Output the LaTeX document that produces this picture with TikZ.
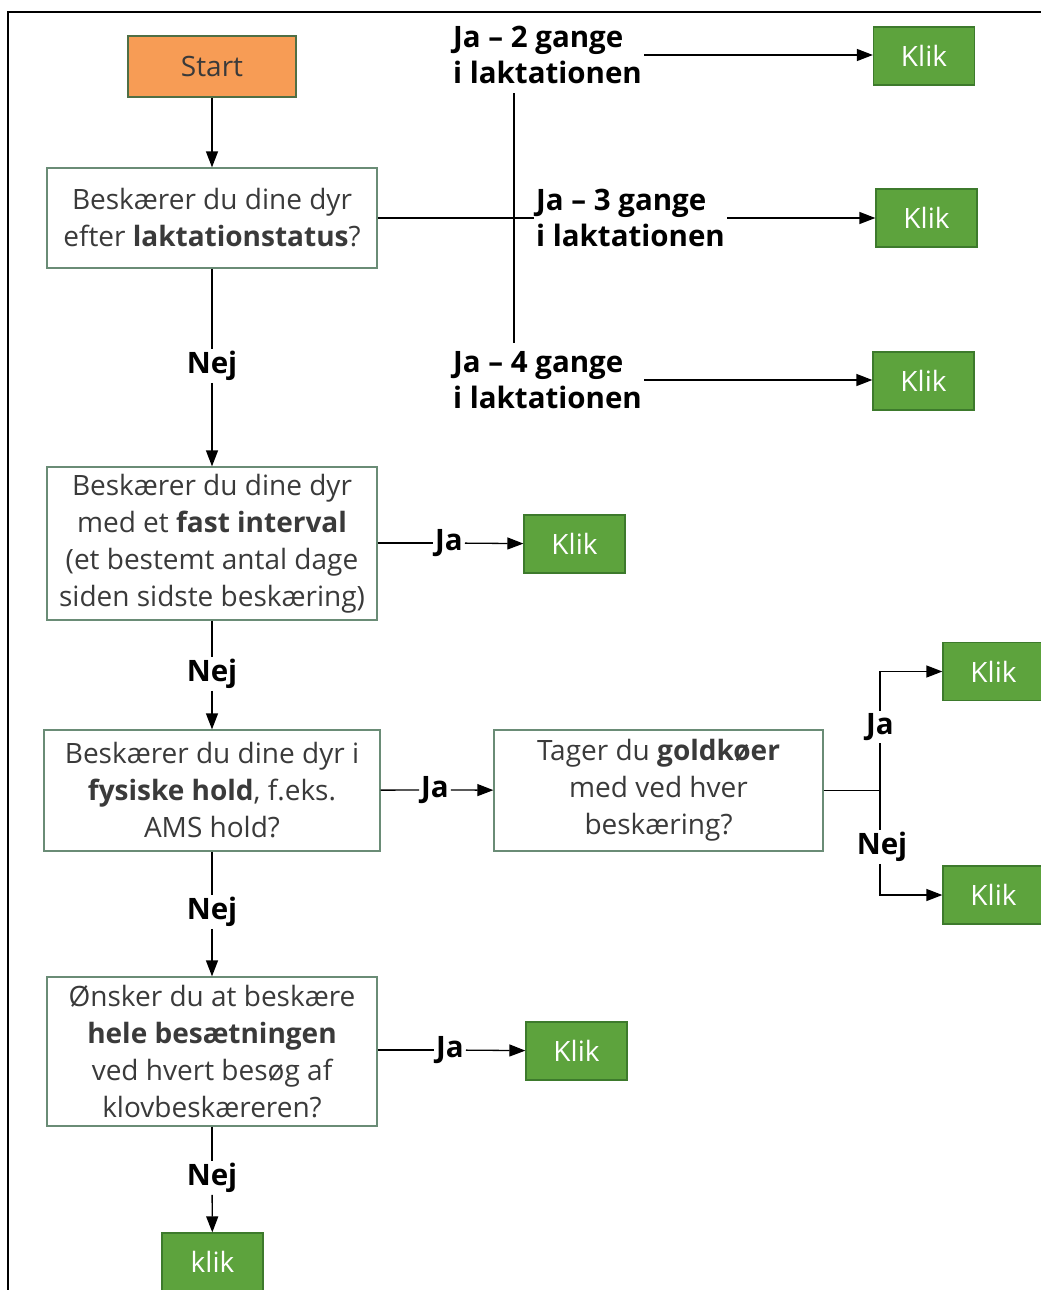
\documentclass[tikz,border=0pt]{standalone}
\usepackage{fontspec}
\setmainfont{Open Sans}
\usetikzlibrary{arrows.meta}
\definecolor{orangefill}{HTML}{F79C55}
\definecolor{startdraw}{HTML}{4F6F45}
\definecolor{klikfill}{HTML}{5DA33D}
\definecolor{klikdraw}{HTML}{3D7A2C}
\definecolor{boxdraw}{HTML}{6A8C76}
\definecolor{txtgrey}{HTML}{3A3A3A}
\newcommand\bxfont{\fontsize{28}{37}\selectfont}
\newcommand\lbfont{\fontsize{29.5}{36}\selectfont\bfseries}
\begin{document}
\begin{tikzpicture}[x=1pt,y=-1pt,
  qbox/.style={draw=boxdraw, line width=1.3pt, fill=white, align=center, text=txtgrey, font=\bxfont, inner sep=0pt},
  klikbox/.style={draw=klikdraw, line width=1.3pt, fill=klikfill, text=white, font=\bxfont, minimum width=101pt, minimum height=58pt, inner sep=0pt},
  startbox/.style={draw=startdraw, line width=1.3pt, fill=orangefill, text=txtgrey, font=\bxfont, minimum width=168pt, minimum height=61pt, inner sep=0pt},
  lbl/.style={font=\lbfont, text=black, inner sep=2pt},
  conn/.style={line width=1.3pt, draw=black},
  arr/.style={conn, -{Triangle[length=16pt,width=12pt]}}
]
\useasboundingbox (0,0) rectangle (1041,1290);
\fill[white] (0,0) rectangle (1041,1290);
\draw[line width=1.2pt] (8,1290) -- (8,12) -- (1041,12);

% nodes
\node[startbox] (start) at (212,66.5) {Start};
\node[qbox, minimum width=330pt, minimum height=100pt] (b1) at (212,218)
  {Beskærer du dine dyr\\efter \textbf{laktationstatus}?};
\node[qbox, minimum width=330pt, minimum height=153pt] (b2) at (212,543.5)
  {Beskærer du dine dyr\\med et \textbf{fast interval}\\(et bestemt antal dage\\siden sidste beskæring)};
\node[qbox, minimum width=336pt, minimum height=121pt] (b3) at (212,790.5)
  {Beskærer du dine dyr i\\\textbf{fysiske hold}, f.eks.\\AMS hold?};
\node[qbox, minimum width=329pt, minimum height=121pt] (b4) at (658.5,790.5)
  {Tager du \textbf{goldkøer}\\med ved hver\\beskæring?};
\node[qbox, minimum width=330pt, minimum height=149pt] (b5) at (212,1051.5)
  {Ønsker du at beskære\\\textbf{hele besætningen}\\ved hvert besøg af\\klovbeskæreren?};

\node[klikbox] (k1) at (924,56) {Klik};
\node[klikbox] (k2) at (926.5,218) {Klik};
\node[klikbox] (k3) at (923.5,381) {Klik};
\node[klikbox] (k4) at (574.5,544) {Klik};
\node[klikbox] (k5) at (993.5,671.5) {Klik};
\node[klikbox] (k6) at (993.5,895) {Klik};
\node[klikbox] (k7) at (576.5,1051) {Klik};
\node[klikbox] (k8) at (212.5,1262) {klik};

% labels
\node[lbl, align=left, anchor=west] (l2) at (451,55) {Ja – 2 gange\\i laktationen};
\node[lbl, align=left, anchor=west] (l3) at (534,218) {Ja – 3 gange\\i laktationen};
\node[lbl, align=left, anchor=west] (l4) at (451,380) {Ja – 4 gange\\i laktationen};
\node[lbl] (n1) at (212,366) {Nej};
\node[lbl] (n2) at (212,674) {Nej};
\node[lbl] (n3) at (212,912) {Nej};
\node[lbl] (n4) at (212,1178) {Nej};
\node[lbl] (j1) at (449,543) {Ja};
\node[lbl] (j2) at (435,790) {Ja};
\node[lbl] (j3) at (450,1050) {Ja};
\node[lbl] (jr) at (880,727) {Ja};
\node[lbl] (nr) at (882,847) {Nej};

\coordinate (vt) at (514,93);
\coordinate (vb) at (514,343);
\coordinate (jj) at (880,790.5);

% connectors
\draw[arr] (start) -- (b1);
\draw[conn] (b1.east) -- (l3.west);
\draw[conn] (vt) -- (vb);
\draw[arr] (l2.east) -- (l2.east -| k1.west);
\draw[arr] (l3.east) -- (l3.east -| k2.west);
\draw[arr] (l4.east) -- (l4.east -| k3.west);

\draw[conn] (b1) -- (n1);
\draw[arr] (n1) -- (b2);
\draw[conn] (b2.east |- j1) -- (j1);
\draw[arr] (j1) -- (k4);
\draw[conn] (b2) -- (n2);
\draw[arr] (n2) -- (b3);
\draw[conn] (b3) -- (j2);
\draw[arr] (j2) -- (b4);
\draw[conn] (b4.east) -- (jj);
\draw[conn] (jj) -- (jj |- jr.south);
\draw[arr] (jj |- jr.north) |- (k5.west);
\draw[conn] (jj) -- (jj |- nr.north);
\draw[arr] (jj |- nr.south) |- (k6.west);
\draw[conn] (b3) -- (n3);
\draw[arr] (n3) -- (b5);
\draw[conn] (b5.east |- j3) -- (j3);
\draw[arr] (j3) -- (k7);
\draw[conn] (b5) -- (n4);
\draw[arr] (n4) -- (k8);
\end{tikzpicture}
\end{document}
